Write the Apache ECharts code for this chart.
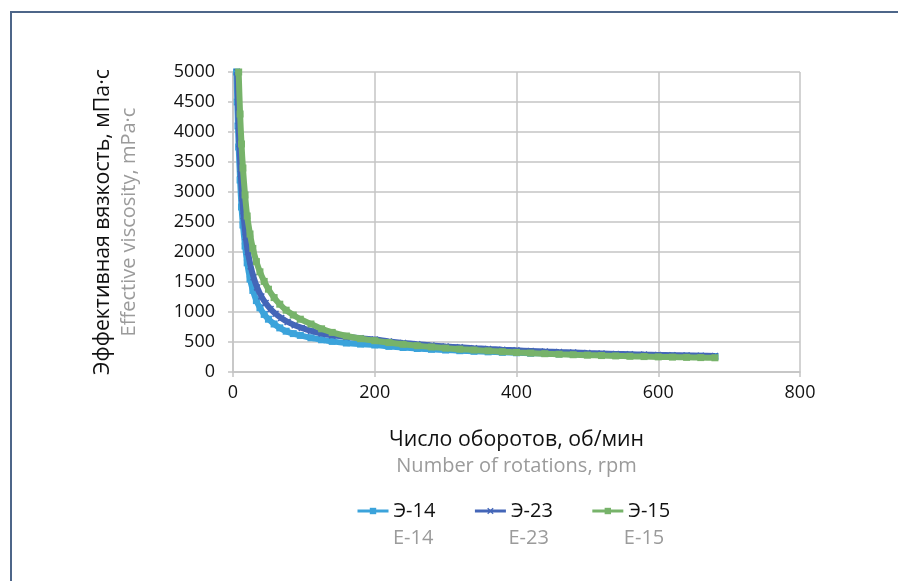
<!DOCTYPE html>
<html><head><meta charset="utf-8">
<script src="https://cdn.jsdelivr.net/npm/echarts@6/dist/echarts.min.js"></script>
<style>html,body{margin:0;padding:0;background:#fff}#c{width:898px;height:581px}</style>
</head><body><div id="c"></div>
<script>
const seriesNames = ['Э-14','Э-23','Э-15'];
const seriesNamesEn = ['E-14','E-23','E-15'];
const xTicks = [0,200,400,600,800];
const yTicks = [0,500,1000,1500,2000,2500,3000,3500,4000,4500,5000];

const rpm14 = [5,6,7,8,10,12,14,17,20,24,28,33,38,44,50,58,66,75,85,95,110,125,140,160,180,200,220,240,260,280,300,320,340,360,380,400,420,440,460,480,500,520,540,560,580,600,620,640,660,680];
const visc14 = [5000,4500,4100,3750,3200,2750,2450,2100,1820,1550,1360,1190,1070,960,880,800,735,680,640,610,570,537,510,483,465,450,427,408,392,378,366,355,345,336,328,321,314,308,302,297,292,287,283,279,275,271,267,264,261,258];

const rpm23 = [6,7,8,9,11,13,15,18,21,25,29,34,40,46,53,60,68,77,87,97,110,125,140,160,180,200,220,240,260,280,300,320,340,360,380,400,420,440,460,480,500,520,540,560,580,600,620,640,660,680];
const visc23 = [5000,4500,4100,3800,3300,2900,2600,2250,2000,1760,1580,1410,1260,1150,1050,970,900,835,780,735,685,640,610,585,562,540,510,485,463,443,426,411,397,384,372,361,351,341,332,324,316,309,302,296,290,285,280,275,271,267];

const rpm15 = [8,10,12,14,17,20,24,28,33,38,44,50,58,66,75,85,95,110,125,140,160,180,200,220,240,260,280,300,320,340,360,380,400,420,440,460,480,500,520,540,560,580,600,620,640,660,680];
const visc15 = [5000,4300,3800,3400,2950,2600,2300,2060,1840,1670,1510,1380,1240,1130,1030,950,880,800,720,660,600,555,522,490,462,438,417,398,381,366,352,338,326,315,305,296,288,281,274,268,262,257,252,248,244,240,237];

const colors = ['#3ba3db','#4466b8','#77b36a'];
const zip = (a,b) => a.map((v,i)=>[v,b[i]]);
const xSym = 'path://M0,1.5L1.5,0L5,3.5L8.5,0L10,1.5L6.5,5L10,8.5L8.5,10L5,6.5L1.5,10L0,8.5L3.5,5Z';
const symbols = ['rect', xSym, 'rect'];
const datas = [zip(rpm14,visc14), zip(rpm23,visc23), zip(rpm15,visc15)];
const FONT = 'Open Sans';

const chart = echarts.init(document.getElementById('c'), null, {renderer:'canvas'});
const enMap = {}; seriesNames.forEach((n,i)=>enMap[n]=seriesNamesEn[i]);
chart.setOption({
  animation:false,
  textStyle:{fontFamily:FONT},
  graphic:[{type:'rect', shape:{x:11,y:12,width:1000,height:1000}, style:{fill:'none',stroke:'#4d6689',lineWidth:2}, silent:true}],
  grid:{left:233,right:98,top:72,bottom:209,containLabel:false},
  xAxis:{type:'value',min:0,max:800,interval:200,
    axisLine:{show:true,lineStyle:{color:'#c4c4c4',width:1.5}},
    axisTick:{show:true,length:5,lineStyle:{color:'#c4c4c4',width:1.5}},
    splitLine:{show:true,lineStyle:{color:'#c4c4c4',width:1.5}},
    axisLabel:{color:'#111',fontSize:18,margin:12,fontFamily:FONT,formatter:v=>String(v)},
    name:'{a|Число оборотов, об/мин}\n{b|Number of rotations, rpm}',
    nameLocation:'middle',nameGap:55,
    nameTextStyle:{rich:{a:{fontSize:21.3,color:'#111',lineHeight:26,fontFamily:FONT},b:{fontSize:20,color:'#9b9b9b',lineHeight:26,fontFamily:FONT}}}
  },
  yAxis:{type:'value',min:0,max:5000,interval:500,
    axisLine:{show:true,lineStyle:{color:'#c4c4c4',width:1.5}},
    axisTick:{show:true,length:5,lineStyle:{color:'#c4c4c4',width:1.5}},
    splitLine:{show:true,lineStyle:{color:'#c4c4c4',width:1.5}},
    axisLabel:{color:'#111',fontSize:18,margin:18,fontFamily:FONT,formatter:v=>String(v)},
    name:'{a|Эффективная вязкость, мПа·с}\n{b|Effective viscosity, mPa·c}',
    nameLocation:'middle',nameGap:90,nameRotate:90,
    nameTextStyle:{rich:{a:{fontSize:21.3,color:'#111',lineHeight:27,fontFamily:FONT},b:{fontSize:20,color:'#9b9b9b',lineHeight:27,fontFamily:FONT}}}
  },
  legend:[
    {data:seriesNames,left:351,top:496,itemWidth:31,itemHeight:8,itemGap:38,
     textStyle:{color:'#111',fontSize:20,fontFamily:FONT},lineStyle:{width:3}},
    {data:seriesNames,left:351,top:523,itemWidth:31,itemHeight:8,itemGap:38,
     formatter:n=>enMap[n],
     itemStyle:{opacity:0},lineStyle:{opacity:0},
     textStyle:{color:'#9b9b9b',fontSize:20,fontFamily:FONT}}
  ],
  series:seriesNames.map((n,i)=>({
    name:n,type:'line',data:datas[i],smooth:0.3,
    symbol:symbols[i],symbolSize:7,showSymbol:true,
    lineStyle:{color:colors[i],width:6},
    itemStyle:{color:colors[i]},
    z:2+i
  }))
});
</script></body></html>
